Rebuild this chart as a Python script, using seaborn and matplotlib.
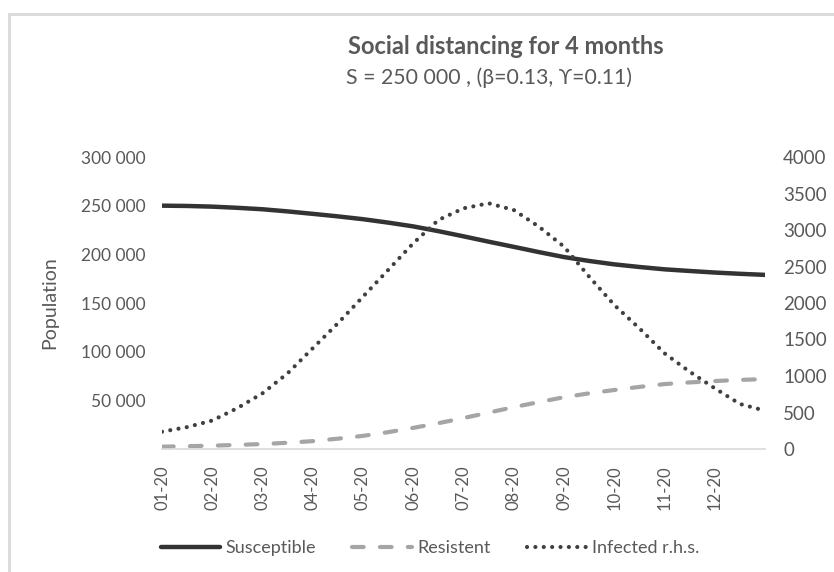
import matplotlib
matplotlib.use("Agg")
import matplotlib.pyplot as plt
import matplotlib.ticker as mticker
from matplotlib.lines import Line2D
import seaborn as sns
import pandas as pd

# months from 01-20, in half-month steps
month_pos = [0, 0.5, 1, 1.5, 2, 2.5, 3, 3.5, 4, 4.5, 5, 5.5, 6, 6.5, 7, 7.5,
             8, 8.5, 9, 9.5, 10, 10.5, 11, 11.5, 12]
susceptible = [250000, 249700, 249000, 247800, 246300, 244100, 241600, 239000,
               236100, 232600, 228700, 223800, 218500, 213000, 207700, 202300,
               197200, 193200, 189700, 187000, 184600, 182900, 181300, 180000,
               178900]
resistent = [2400, 2900, 3400, 4200, 5100, 6400, 8100, 10600, 13500, 17300,
             21700, 26500, 31800, 37400, 43000, 48200, 53200, 57200, 60600,
             63800, 66700, 68400, 69800, 71000, 71800]
infected = [237, 300, 390, 560, 763, 1037, 1380, 1722, 2087, 2452, 2818, 3137,
            3297, 3366, 3274, 3046, 2772, 2361, 1973, 1653, 1311, 1059, 832,
            617, 525]
month_labels = ['01-20', '02-20', '03-20', '04-20', '05-20', '06-20', '07-20',
                '08-20', '09-20', '10-20', '11-20', '12-20', '']

df = pd.DataFrame({'month': month_pos, 'Susceptible': susceptible,
                   'Resistent': resistent, 'Infected': infected})

sns.set_style('white')
plt.rcParams['font.family'] = ['Lato', 'DejaVu Sans']
txt = '#595959'
grey_line = '#d9d9d9'

fig = plt.figure(figsize=(8.34, 5.72), dpi=100)
ax = fig.add_axes([162 / 834, 1 - 449 / 572, (765 - 162) / 834, (449 - 157) / 572])
ax2 = ax.twinx()

sns.lineplot(data=df, x='month', y='Susceptible', ax=ax, color='#333333',
             linewidth=3.2, label='Susceptible', legend=False)
sns.lineplot(data=df, x='month', y='Resistent', ax=ax, color='#a5a5a5',
             linewidth=3.0, label='Resistent', legend=False)
sns.lineplot(data=df, x='month', y='Infected', ax=ax2, color='#404040',
             linewidth=3.0, label='Infected r.h.s.', legend=False)

l_s, l_r = ax.get_lines()[:2]
l_i = ax2.get_lines()[0]
l_s.set_solid_capstyle('round')
l_r.set_dashes((2.8, 3.9))
l_r.set_dash_capstyle('round')
l_i.set_dashes((0.01, 2.0))
l_i.set_dash_capstyle('round')

ax.set_xlim(0, 12)
ax.set_ylim(0, 300000)
ax2.set_ylim(0, 4000)
ax.set_xticks(range(13))
ax.set_xticklabels(month_labels, rotation=90)
ax.set_yticks([50000, 100000, 150000, 200000, 250000, 300000])
ax.yaxis.set_major_formatter(mticker.FuncFormatter(lambda v, p: '{:,.0f}'.format(v).replace(',', ' ')))
ax2.set_yticks(range(0, 4001, 500))

for a in (ax, ax2):
    for s in a.spines.values():
        s.set_visible(False)
ax.spines['bottom'].set_visible(True)
ax.spines['bottom'].set_color(grey_line)
ax.spines['bottom'].set_linewidth(1.2)

ax.tick_params(axis='x', length=6, width=1.2, color=grey_line, direction='out',
               labelsize=12, labelcolor=txt, pad=6)
ax.tick_params(axis='y', length=0, labelsize=12.5, labelcolor=txt, pad=12)
ax2.tick_params(axis='y', length=0, labelsize=13.5, labelcolor=txt, pad=13)
ax.set_xlabel('')
ax.set_ylabel('Population', fontsize=14, color=txt, labelpad=16)
ax2.set_ylabel('')

fig.text(506 / 834, 1 - 47 / 572, 'Social distancing for 4 months', ha='center',
         va='center', fontsize=17, fontweight='bold', color=txt)
fig.text(489 / 834, 1 - 78 / 572, 'S = 250 000 , (\u03b2=0.13, \u03d2=0.11)',
         ha='center', va='center', fontsize=15.3, color=txt)

fig.legend(handles=[l_s, l_r, l_i], labels=['Susceptible', 'Resistent', 'Infected r.h.s.'],
           loc='center', bbox_to_anchor=(430 / 834, 1 - 548 / 572), ncol=3,
           frameon=False, fontsize=13, labelcolor=txt, handlelength=3.3,
           handletextpad=0.3, columnspacing=2.0)

# chart border (cropped on right and bottom)
fig.add_artist(Line2D([9 / 834, 9 / 834], [0, 1 - 14 / 572], color=grey_line, lw=2))
fig.add_artist(Line2D([9 / 834, 1], [1 - 14 / 572, 1 - 14 / 572], color=grey_line, lw=2))

fig.savefig('out.png', dpi=100)
